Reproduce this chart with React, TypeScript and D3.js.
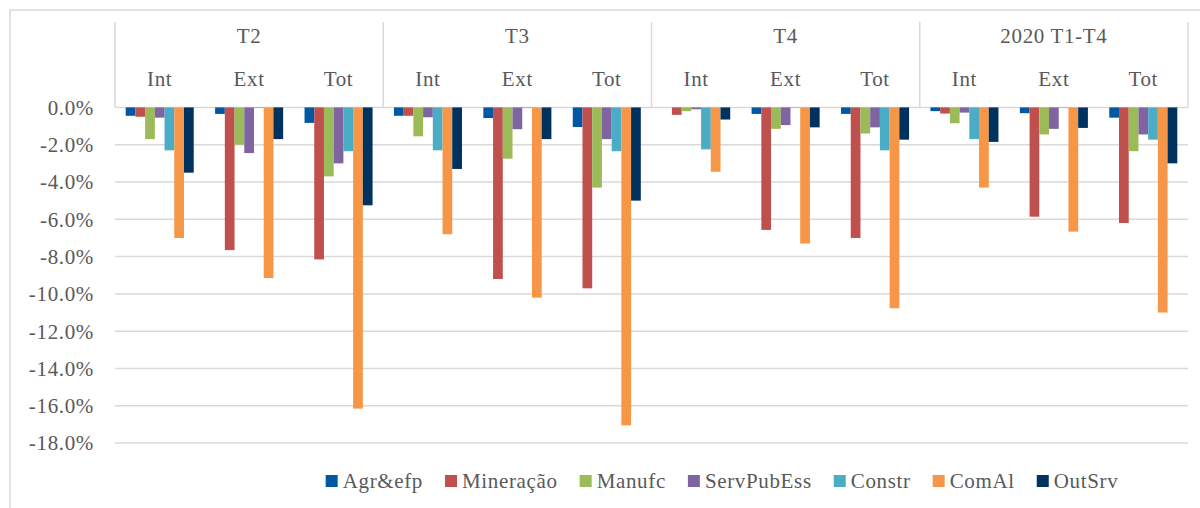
import React, { useRef, useEffect } from "react";
import * as d3 from "d3";

// periods and sub-periods on the x axis
const periods = ["T2", "T3", "T4", "2020 T1-T4"];
const parts = ["Int", "Ext", "Tot"];
const sectors = ["Agr&efp", "Mineração", "Manufc", "ServPubEss", "Constr", "ComAl", "OutSrv"];
const colors = ["#0058a3", "#c0504d", "#9bbb59", "#8064a2", "#4bacc6", "#f79646", "#00325f"];

// % change, order: T2 Int/Ext/Tot, T3 Int/Ext/Tot, T4 ..., 2020 ...
const agr = [-0.45, -0.35, -0.83, -0.45, -0.57, -1.05, 0, -0.35, -0.35, -0.2, -0.31, -0.55];
const mineracao = [-0.5, -7.65, -8.15, -0.45, -9.2, -9.7, -0.4, -6.57, -7.0, -0.33, -5.86, -6.2];
const manufc = [-1.7, -2.0, -3.7, -1.55, -2.75, -4.3, -0.2, -1.15, -1.4, -0.85, -1.45, -2.35];
const servPub = [-0.55, -2.45, -3.0, -0.53, -1.17, -1.7, -0.1, -0.95, -1.07, -0.28, -1.15, -1.45];
const constr = [-2.3, -0.03, -2.35, -2.3, -0.03, -2.35, -2.25, -0.02, -2.3, -1.7, -0.02, -1.73];
const comAl = [-7.0, -9.15, -16.15, -6.8, -10.2, -17.05, -3.45, -7.3, -10.77, -4.3, -6.66, -11.0];
const outSrv = [-3.5, -1.7, -5.25, -3.3, -1.7, -5.0, -0.65, -1.07, -1.73, -1.85, -1.1, -3.0];
const series = [agr, mineracao, manufc, servPub, constr, comAl, outSrv];

const yTicks = [0, -2, -4, -6, -8, -10, -12, -14, -16, -18];

const FONT = "'Liberation Serif', 'Times New Roman', serif";
const TXT = "#595959";
const GRID = "#d9d9d9";

function App() {
  const svgRef = useRef<SVGSVGElement>(null);

  useEffect(() => {
    const svg = d3.select(svgRef.current);
    svg.selectAll("*").remove();

    const left = 115, right = 1188, zeroY = 107.4, headTop = 22;

    const yScale = d3.scaleLinear().domain([-18, 0]).range([zeroY + 18 * 18.65, zeroY]);
    const xPeriod = d3.scaleBand().domain(periods).range([left, right]).padding(0);
    const xPart = d3.scaleBand().domain(parts).range([0, xPeriod.bandwidth()]).padding(0);
    const xSector = d3.scaleBand<number>()
      .domain(d3.range(sectors.length))
      .range([0, xPart.bandwidth()])
      .paddingInner(0)
      .paddingOuter(1.1);

    // outer frame
    svg.append("rect")
      .attr("x", 10).attr("y", 10).attr("width", 1200).attr("height", 520)
      .attr("fill", "none").attr("stroke", GRID).attr("stroke-width", 1.5);

    // gridlines
    svg.append("g")
      .selectAll("line")
      .data(yTicks)
      .join("line")
      .attr("x1", left).attr("x2", right)
      .attr("y1", d => yScale(d)).attr("y2", d => yScale(d))
      .attr("stroke", GRID).attr("stroke-width", 1.5);

    // y labels
    svg.append("g")
      .selectAll("text")
      .data(yTicks)
      .join("text")
      .attr("x", 94).attr("y", d => yScale(d))
      .attr("dy", "0.35em")
      .attr("text-anchor", "end")
      .text(d => d.toFixed(1) + "%");

    // header separators
    const seps = periods.map(p => xPeriod(p)!).concat([right]);
    svg.append("g")
      .selectAll("line")
      .data(seps)
      .join("line")
      .attr("x1", d => d).attr("x2", d => d)
      .attr("y1", headTop).attr("y2", zeroY)
      .attr("stroke", GRID).attr("stroke-width", 1.5);

    // header labels
    svg.append("g")
      .selectAll("text")
      .data(periods)
      .join("text")
      .attr("x", d => xPeriod(d)! + xPeriod.bandwidth() / 2)
      .attr("y", 43)
      .attr("text-anchor", "middle")
      .text(d => d);

    const partData = periods.flatMap(p => parts.map(s => ({ p, s })));
    svg.append("g")
      .selectAll("text")
      .data(partData)
      .join("text")
      .attr("x", d => xPeriod(d.p)! + xPart(d.s)! + xPart.bandwidth() / 2)
      .attr("y", 86)
      .attr("text-anchor", "middle")
      .text(d => d.s);

    // bars
    const bars = series.flatMap((vals, si) =>
      vals.map((v, i) => ({
        si,
        v,
        p: periods[Math.floor(i / parts.length)],
        s: parts[i % parts.length],
      }))
    );
    svg.append("g")
      .selectAll("rect")
      .data(bars)
      .join("rect")
      .attr("x", d => xPeriod(d.p)! + xPart(d.s)! + xSector(d.si)!)
      .attr("y", zeroY)
      .attr("width", xSector.bandwidth())
      .attr("height", d => yScale(d.v) - zeroY)
      .attr("fill", d => colors[d.si]);

    // legend
    const lg = svg.append("g");
    const items = lg.selectAll("g")
      .data(sectors)
      .join("g");
    items.append("rect")
      .attr("width", 12).attr("height", 12)
      .attr("y", 475)
      .attr("fill", (d, i) => colors[i]);
    items.append("text")
      .attr("x", 17).attr("y", 481).attr("dy", "0.35em")
      .text(d => d);

    svg.selectAll("text")
      .attr("font-family", FONT)
      .attr("font-size", 21)
      .attr("letter-spacing", "0.65px")
      .attr("fill", TXT);

    // lay out legend entries once the font is set
    const gap = 22;
    let x = 0;
    const pos: number[] = [];
    items.each(function () {
      pos.push(x);
      const w = (d3.select(this).select("text").node() as SVGTextElement).getComputedTextLength();
      x += 17 + w + gap;
    });
    const total = x - gap;
    const start = 722 - total / 2;
    items.attr("transform", (d, i) => `translate(${start + pos[i]},0)`);
  }, []);

  return (
    <svg
      ref={svgRef}
      width={1200}
      height={508}
      style={{ position: "absolute", left: 0, top: 0, background: "#fff" }}
    />
  );
}

export default App;
